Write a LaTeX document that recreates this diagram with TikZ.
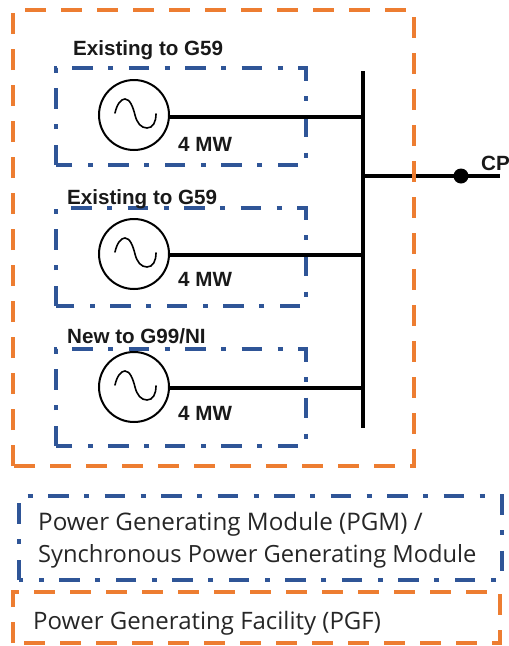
\documentclass[tikz,border=0pt]{standalone}
\usepackage{fontspec}
\setmainfont{Liberation Sans}
\newfontfamily\legendfont{Open Sans}
\definecolor{pgforange}{HTML}{ED7D31}
\definecolor{pgmblue}{HTML}{2F5597}
\newcommand{\cwbox}[5]{\draw[#1] (#2,#5) -- (#2,#3) -- (#4,#3) -- (#4,#5) -- cycle;}
\tikzset{
  x=1pt,y=-1pt,
  pgfbox/.style={draw=pgforange,line width=4.6pt,dash pattern=on 21pt off 15pt},
  pgmbox/.style={draw=pgmblue,line width=4.6pt,dash pattern=on 20.5pt off 15.5pt on 5pt off 15.5pt},
  gen/.style={circle,draw=black,line width=2pt,minimum size=70pt,inner sep=0pt},
  feeder/.style={draw=black,line width=4.5pt},
  lab/.style={font=\fontsize{20.6pt}{22pt}\selectfont\bfseries,inner sep=0pt,anchor=base west,text=black!90},
  leg/.style={font=\legendfont\fontsize{24pt}{26pt}\selectfont,inner sep=0pt,anchor=base west,text=black!85},
}
\begin{document}
\begin{tikzpicture}
\useasboundingbox (0,0) rectangle (509,646);
% module boxes
\cwbox{pgmbox}{56}{68}{306}{165}
\cwbox{pgmbox}{56}{208}{306}{306}
\cwbox{pgmbox}{56}{349}{306}{446}
% bus
\coordinate (bustop) at (363,71);
\coordinate (busbot) at (363,428);
\coordinate (bj1) at (363,117);
\coordinate (bj2) at (363,255);
\coordinate (bj3) at (363,388);
\coordinate (bj4) at (363,176);
\coordinate (cpend) at (500,176);
\node[gen] (g1) at (134,115) {};
\node[gen] (g2) at (134,254) {};
\node[gen] (g3) at (134,387) {};
\draw[draw=black,line width=4.5pt] (bustop) -- (busbot);
\draw[feeder] (g1.east |- bj1) -- (bj1);
\draw[feeder] (g2.east |- bj2) -- (bj2);
\draw[feeder] (g3.east |- bj3) -- (bj3);
\draw[draw=black,line width=3.5pt] (bj4) -- (cpend);
\node[circle,fill=black,minimum size=15pt,inner sep=0pt] (cp) at (461,176) {};
% sine waves
\foreach \n in {g1,g2,g3}{
  \draw[line width=1.6pt,line cap=round,shift={(\n.center)}] (-19,-2)
    .. controls (-17,-11) and (-13,-16) .. (-9,-16)
    .. controls (-4,-16) and (-1,-8) .. (1,0)
    .. controls (3,8) and (7,13) .. (13,13)
    .. controls (19,13) and (22,7) .. (22,-1);
}
% facility box
\cwbox{pgfbox}{13}{10}{414}{466}
% labels
\node[lab] (t1) at (73,55) {Existing to G59};
\node[lab] (t2) at (67,204) {Existing to G59};
\node[lab] (t3) at (67,343) {New to G99/NI};
\node[lab] (m1) at (178,151) {4 MW};
\node[lab] (m2) at (178,286) {4 MW};
\node[lab] (m3) at (178,420) {4 MW};
\node[lab] (cpl) at (481,170) {CP};
% legend
\cwbox{pgmbox}{19}{496}{502}{580}
\cwbox{pgfbox}{13}{592}{500}{643}
\node[leg,font=\legendfont\fontsize{24.2pt}{26pt}\selectfont] (l1) at (38,530) {Power Generating Module (PGM) /};
\node[leg,font=\legendfont\fontsize{23.7pt}{26pt}\selectfont] (l2) at (38,562) {Synchronous Power Generating Module};
\node[leg] (l3) at (33,629) {Power Generating Facility (PGF)};
\end{tikzpicture}
\end{document}
